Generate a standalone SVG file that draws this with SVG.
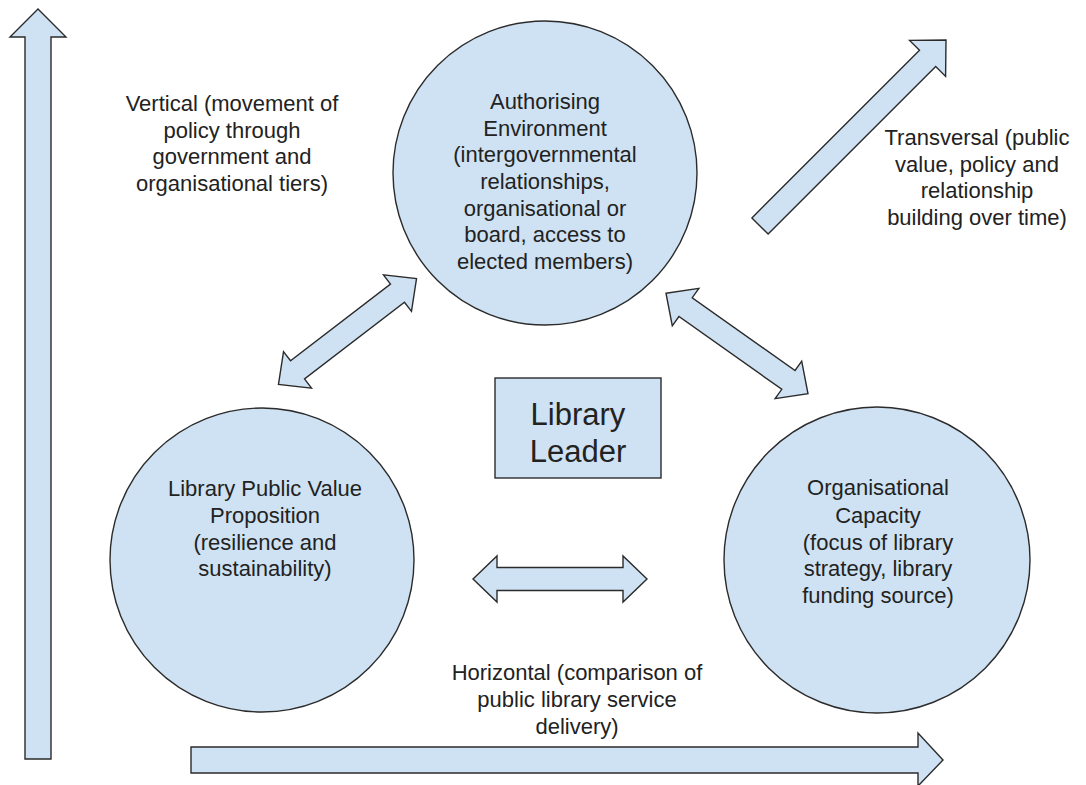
<svg xmlns="http://www.w3.org/2000/svg" width="1086" height="785" viewBox="0 0 1086 785">
  <style>
    .shape { fill: #cfe2f3; stroke: #2b2b2b; stroke-width: 1.4; stroke-linejoin: miter; }
    .lbl { font-family: "Liberation Sans", Arial, sans-serif; font-size: 22px; fill: #222; text-anchor: middle; }
    .big { font-family: "Liberation Sans", Arial, sans-serif; font-size: 31px; fill: #222; text-anchor: middle; }
  </style>
  <defs>
    <path id="dbl" d="M -87,0 L -63,-23 L -63,-11.5 L 63,-11.5 L 63,-23 L 87,0 L 63,23 L 63,11.5 L -63,11.5 L -63,23 Z"/>
  </defs>
  <rect width="1086" height="785" fill="#ffffff"/>

  <g id="connectors">
    <path id="vertical-arrow" class="shape" d="M 38,9 L 66,37 L 51,37 L 51,759 L 25,759 L 25,37 L 10,37 Z"/>
    <path id="horizontal-arrow" class="shape" d="M 191,747 L 918,747 L 918,733 L 943,760 L 918,786 L 918,773 L 191,773 Z"/>
    <path id="transversal-arrow" class="shape" d="M 751.9,217.9 L 919.5,50.3 L 909.6,40.4 L 946,40 L 945.6,76.4 L 935.7,66.5 L 768.1,234.1 Z"/>
    <use id="arrow-auth-value" class="shape" href="#dbl" transform="translate(347.5,331.5) rotate(-37.5)"/>
    <use id="arrow-auth-capacity" class="shape" href="#dbl" transform="translate(737,343.5) rotate(35.3)"/>
    <use id="arrow-value-capacity" class="shape" href="#dbl" transform="translate(560,579)"/>
  </g>

  <g id="node-authorising">
    <circle class="shape" cx="545" cy="173" r="152"/>
    <text class="lbl" x="545" y="109">Authorising</text>
    <text class="lbl" x="545" y="136">Environment</text>
    <text class="lbl" x="545" y="162">(intergovernmental</text>
    <text class="lbl" x="545" y="189">relationships,</text>
    <text class="lbl" x="545" y="216">organisational or</text>
    <text class="lbl" x="545" y="242">board, access to</text>
    <text class="lbl" x="545" y="269">elected members)</text>
  </g>

  <g id="node-value">
    <circle class="shape" cx="262" cy="560" r="152"/>
    <text class="lbl" x="265" y="496">Library Public Value</text>
    <text class="lbl" x="265" y="523">Proposition</text>
    <text class="lbl" x="265" y="550">(resilience and</text>
    <text class="lbl" x="265" y="576">sustainability)</text>
  </g>

  <g id="node-capacity">
    <circle class="shape" cx="877" cy="560" r="153"/>
    <text class="lbl" x="878" y="495">Organisational</text>
    <text class="lbl" x="878" y="523">Capacity</text>
    <text class="lbl" x="878" y="550">(focus of library</text>
    <text class="lbl" x="878" y="576">strategy, library</text>
    <text class="lbl" x="878" y="603">funding source)</text>
  </g>

  <g id="node-leader">
    <rect class="shape" x="495" y="378" width="166" height="100"/>
    <text class="big" x="578" y="425">Library</text>
    <text class="big" x="578" y="462">Leader</text>
  </g>

  <g id="label-vertical">
    <text class="lbl" x="232" y="111">Vertical (movement of</text>
    <text class="lbl" x="232" y="137.5">policy through</text>
    <text class="lbl" x="232" y="164">government and</text>
    <text class="lbl" x="232" y="190.5">organisational tiers)</text>
  </g>

  <g id="label-transversal">
    <text class="lbl" x="977" y="145">Transversal (public</text>
    <text class="lbl" x="977" y="171.5">value, policy and</text>
    <text class="lbl" x="977" y="198">relationship</text>
    <text class="lbl" x="977" y="224.5">building over time)</text>
  </g>

  <g id="label-horizontal">
    <text class="lbl" x="577" y="680">Horizontal (comparison of</text>
    <text class="lbl" x="577" y="707">public library service</text>
    <text class="lbl" x="577" y="734">delivery)</text>
  </g>
</svg>
